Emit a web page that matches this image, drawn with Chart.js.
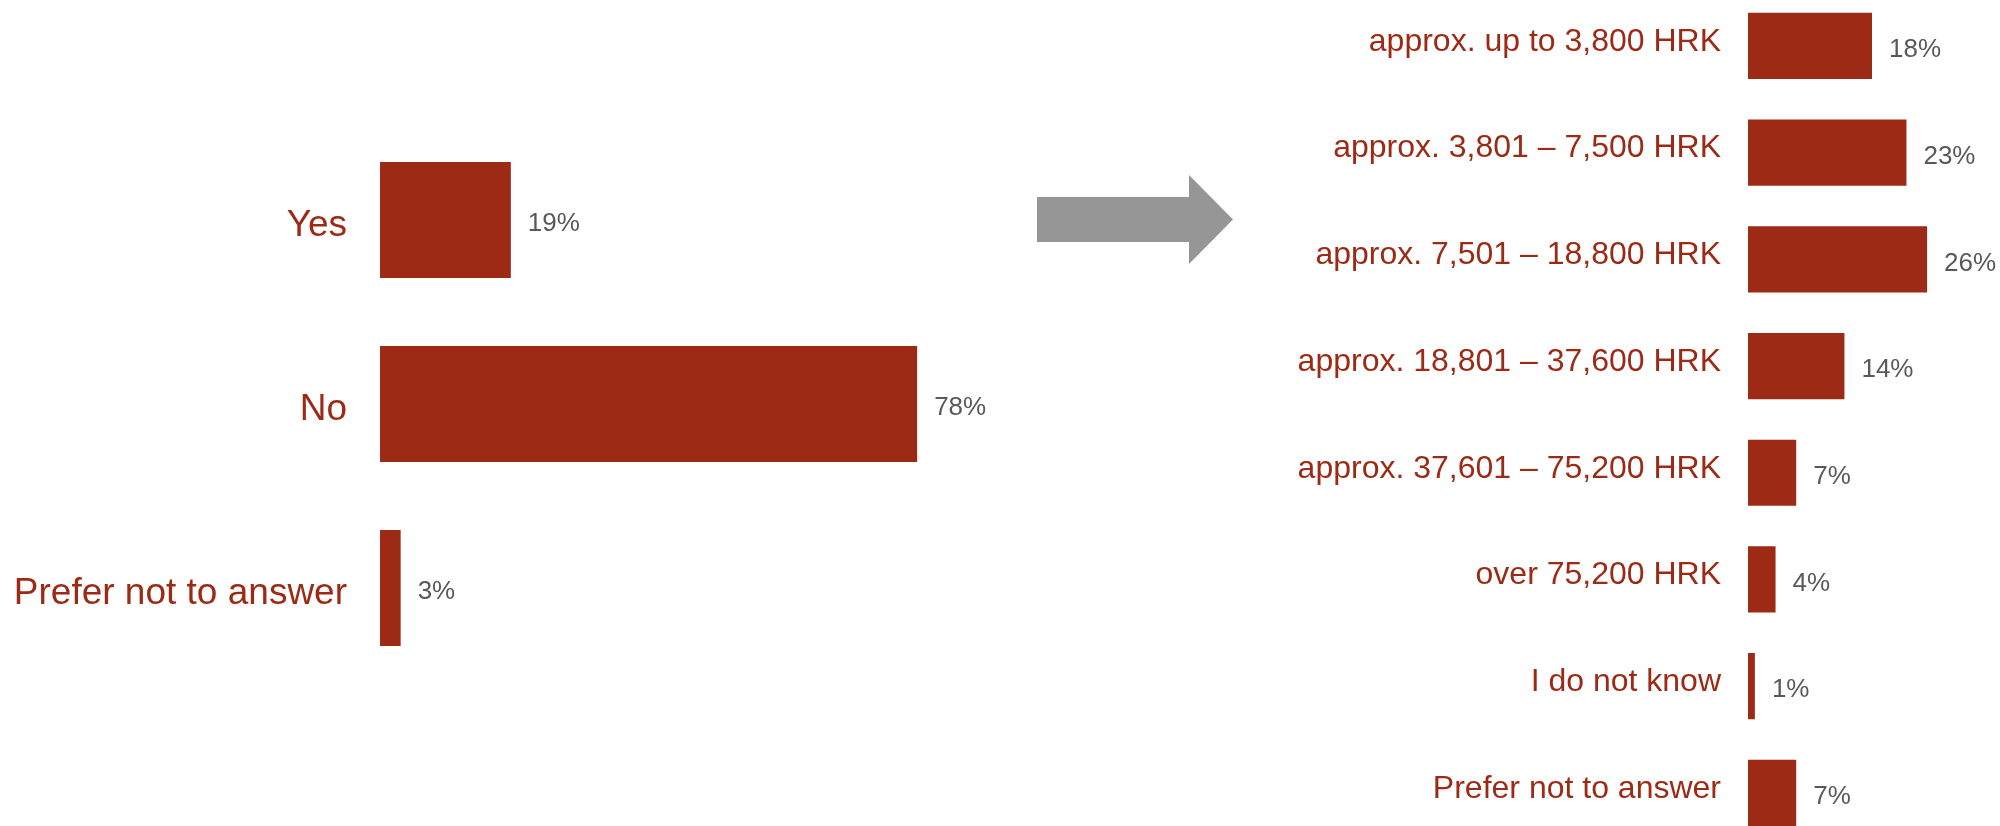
<!DOCTYPE html>
<html>
<head>
<meta charset="utf-8">
<script src="https://cdn.jsdelivr.net/npm/chart.js@4.4.1/dist/chart.umd.min.js"></script>
<style>
    html, body { margin: 0; padding: 0; background: #fff; overflow: hidden; }
    body { width: 2000px; height: 826px; position: relative; }
    .panel { position: absolute; }
    #left-panel { left: 0; top: 0; width: 1000px; height: 826px; }
    /* taller than the page so the first and last rows can bleed past the edges */
    #right-panel { left: 1000px; top: -20px; width: 1000px; height: 880px; }
    #arrow { position: absolute; left: 0; top: 0; }
</style>
</head>
<body>
<div class="panel" id="left-panel"><canvas id="left-chart"></canvas></div>
<svg id="arrow" width="2000" height="826">
    <polygon points="1037,197 1189,197 1189,175 1233,219.5 1189,264 1189,242 1037,242" fill="#969696"/>
</svg>
<div class="panel" id="right-panel"><canvas id="right-chart"></canvas></div>

<script>
// Share of respondents
const answerLabels = ['Yes', 'No', 'Prefer not to answer'];
const answerValues = [19, 78, 3];

// Monthly income brackets
const incomeLabels = [
    'approx. up to 3,800 HRK',
    'approx. 3,801 \u2013 7,500 HRK',
    'approx. 7,501 \u2013 18,800 HRK',
    'approx. 18,801 \u2013 37,600 HRK',
    'approx. 37,601 \u2013 75,200 HRK',
    'over 75,200 HRK',
    'I do not know',
    'Prefer not to answer'
];
const incomeValues = [18, 23, 26, 14, 7, 4, 1, 7];

const BAR_RED = '#9C2A15';
const VALUE_GREY = '#595959';
const FONT = "'Liberation Sans', Arial, sans-serif";

// Writes "NN%" just past the end of every bar
const valueLabels = {
    id: 'valueLabels',
    afterDatasetsDraw(chart) {
        const ctx = chart.ctx;
        const meta = chart.getDatasetMeta(0);
        ctx.save();
        ctx.fillStyle = VALUE_GREY;
        ctx.font = '26px ' + FONT;
        ctx.textAlign = 'left';
        ctx.textBaseline = 'middle';
        meta.data.forEach((bar, i) => {
            const v = chart.data.datasets[0].data[i];
            ctx.fillText(v + '%', bar.x + 17, bar.y + 4);
        });
        ctx.restore();
    }
};

function makeBarChart(canvasId, labels, values, opts) {
    return new Chart(document.getElementById(canvasId), {
        type: 'bar',
        data: {
            labels: labels,
            datasets: [{
                data: values,
                backgroundColor: BAR_RED,
                borderWidth: 0,
                categoryPercentage: 1,
                barPercentage: opts.barPercentage
            }]
        },
        options: {
            indexAxis: 'y',
            responsive: true,
            maintainAspectRatio: false,
            animation: false,
            layout: { padding: opts.padding },
            plugins: {
                legend: { display: false },
                tooltip: { enabled: false }
            },
            scales: {
                x: {
                    display: false,
                    min: 0,
                    max: opts.xMax
                },
                y: {
                    offset: true,
                    grid: { display: false, drawTicks: false },
                    border: { display: false },
                    ticks: {
                        color: BAR_RED,
                        font: { family: FONT, size: opts.labelSize },
                        padding: opts.labelGap,
                        labelOffset: opts.labelShift,
                        autoSkip: false
                    },
                    afterFit(scale) {
                        // fixed gutter for the category names; rows fill the full height
                        scale.width = opts.axisWidth;
                        scale.paddingTop = 0;
                        scale.paddingBottom = 0;
                    }
                }
            }
        },
        plugins: [valueLabels]
    });
}

makeBarChart('left-chart', answerLabels, answerValues, {
    barPercentage: 0.63,
    padding: { top: 128, bottom: 146, left: 0, right: 14 },
    xMax: 88,
    labelSize: 37,
    labelGap: 33,
    labelShift: 6,
    axisWidth: 380
});

makeBarChart('right-chart', incomeLabels, incomeValues, {
    barPercentage: 0.62,
    padding: { top: 12.6, bottom: 13.8, left: 0, right: 4 },
    xMax: 36,
    labelSize: 32,
    labelGap: 27,
    labelShift: -4,
    axisWidth: 748
});
</script>
</body>
</html>
